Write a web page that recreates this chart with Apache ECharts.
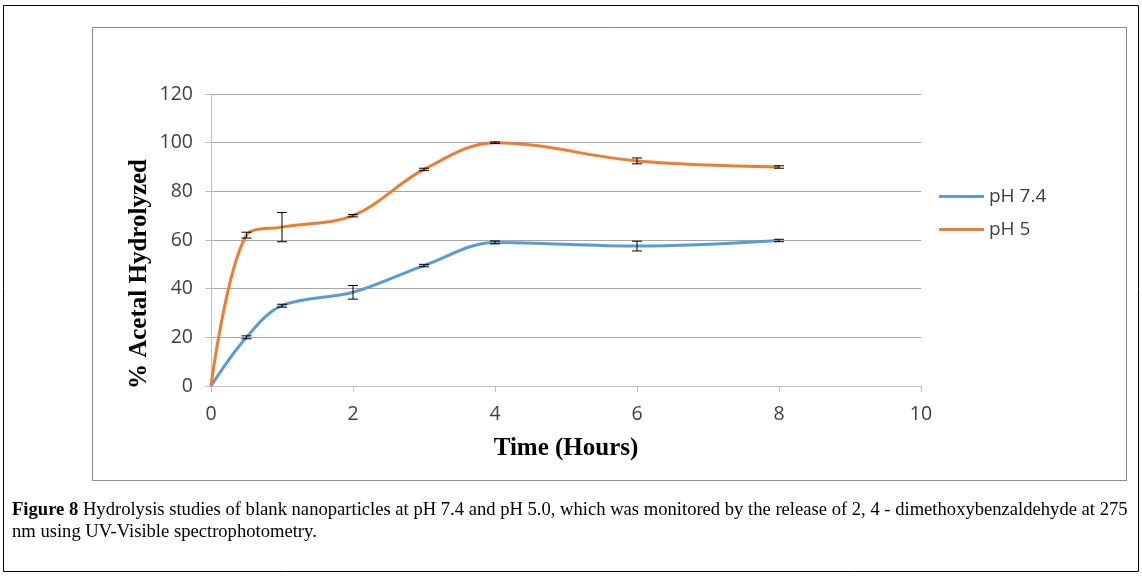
<!DOCTYPE html>
<html>
<head>
<meta charset="utf-8">
<script src="https://cdn.jsdelivr.net/npm/echarts@6/dist/echarts.min.js"></script>
<style>
html,body{margin:0;padding:0;background:#fff;}
#c{width:1142px;height:576px;}
</style>
</head>
<body>
<div id="c"></div>
<script>
var timesHours = [0, 0.5, 1, 2, 3, 4, 6, 8];
var ph74Values = [0, 20, 33, 38.5, 49.5, 59, 57.5, 59.8];
var ph74Errors = [0, 0.6, 0.6, 2.8, 0.5, 0.6, 2.0, 0.5];
var ph5Values = [0, 62, 65.3, 70, 89, 100, 92.5, 90];
var ph5Errors = [0, 1.2, 6.0, 0.5, 0.5, 0.3, 1.2, 0.5];
var seriesNames = ['pH 7.4', 'pH 5'];
var yTicks = [0, 20, 40, 60, 80, 100, 120];
var xTicks = [0, 2, 4, 6, 8, 10];

function pairs(xs, ys){ return xs.map(function(x,i){ return [x, ys[i]]; }); }
function errData(xs, ys, es){
  var out = [];
  xs.forEach(function(x,i){ if (es[i] > 0) out.push([x, ys[i]-es[i], ys[i]+es[i]]); });
  return out;
}
function errRender(params, api){
  var x = api.value(0), lo = api.value(1), hi = api.value(2);
  var pLo = api.coord([x, lo]), pHi = api.coord([x, hi]);
  var w = 5;
  var st = {stroke:'#000', lineWidth:1};
  return {type:'group', children:[
    {type:'line', shape:{x1:pLo[0], y1:pLo[1], x2:pHi[0], y2:pHi[1]}, style:st},
    {type:'line', shape:{x1:pLo[0]-w, y1:pLo[1], x2:pLo[0]+w, y2:pLo[1]}, style:st},
    {type:'line', shape:{x1:pHi[0]-w, y1:pHi[1], x2:pHi[0]+w, y2:pHi[1]}, style:st}
  ]};
}

var chart = echarts.init(document.getElementById('c'), null, {renderer:'canvas'});
var tickFont = {fontFamily:'"Open Sans", "Liberation Sans", sans-serif', fontSize:19.5, color:'#404040'};
chart.setOption({
  animation:false,
  backgroundColor:'#fff',
  grid:{left:211, right:221, top:94, bottom:190},
  legend:{
    orient:'vertical', left:934, top:182, itemGap:14,
    itemWidth:45, itemHeight:3, icon:'rect',
    data:seriesNames,
    textStyle:{fontFamily:'"Open Sans", "Liberation Sans", sans-serif', fontSize:19, color:'#404040'}
  },
  xAxis:{
    type:'value', min:0, max:10, interval:2,
    axisLine:{show:true, lineStyle:{color:'#BFBFBF', width:1}},
    axisTick:{show:true, length:6, lineStyle:{color:'#BFBFBF'}},
    splitLine:{show:false},
    axisLabel:Object.assign({margin:18}, tickFont)
  },
  yAxis:{
    type:'value', min:0, max:120, interval:20,
    axisLine:{show:true, lineStyle:{color:'#BFBFBF', width:1}},
    axisTick:{show:true, length:6, lineStyle:{color:'#BFBFBF'}},
    splitLine:{show:true, lineStyle:{color:'#A6A6A6', width:1}},
    axisLabel:Object.assign({margin:18}, tickFont)
  },
  series:[
    {name:seriesNames[0], type:'line', data:pairs(timesHours, ph74Values), smooth:0.35, showSymbol:false,
     lineStyle:{color:'#5B9BD5', width:3}, itemStyle:{color:'#5B9BD5'}, z:3},
    {name:seriesNames[1], type:'line', data:pairs(timesHours, ph5Values), smooth:0.35, showSymbol:false,
     lineStyle:{color:'#ED7D31', width:3}, itemStyle:{color:'#ED7D31'}, z:3},
    {type:'custom', renderItem:errRender, data:errData(timesHours, ph74Values, ph74Errors), z:5, silent:true},
    {type:'custom', renderItem:errRender, data:errData(timesHours, ph5Values, ph5Errors), z:5, silent:true}
  ],
  graphic:[
    {type:'rect', shape:{x:3.5, y:5.5, width:1135, height:566}, style:{fill:null, stroke:'#000', lineWidth:1}, z:0},
    {type:'rect', shape:{x:92.5, y:27.5, width:1034, height:453}, style:{fill:null, stroke:'#8C8C8C', lineWidth:1}, z:0},
    {type:'text', x:566, y:449, style:{
      text:'Time (Hours)', font:'bold 25px "Liberation Serif", serif', fill:'#000',
      textAlign:'center', textVerticalAlign:'middle'}},
    {type:'text', x:140, y:274, rotation:Math.PI/2, style:{
      text:'% Acetal Hydrolyzed', font:'bold 25px "Liberation Serif", serif', fill:'#000',
      textAlign:'center', textVerticalAlign:'middle'}},
    {type:'text', left:12, top:499, style:{
      text:'{b|Figure 8} Hydrolysis studies of blank nanoparticles at pH 7.4 and pH 5.0, which was monitored by the release of 2, 4 - dimethoxybenzaldehyde at 275\nnm using UV-Visible spectrophotometry.',
      font:'18.6px "Liberation Serif", serif', fill:'#000', lineHeight:22,
      rich:{b:{fontFamily:'"Liberation Serif", serif', fontWeight:'bold', fontSize:18.6, fill:'#000', lineHeight:22}}
    }}
  ]
});
</script>
</body>
</html>
